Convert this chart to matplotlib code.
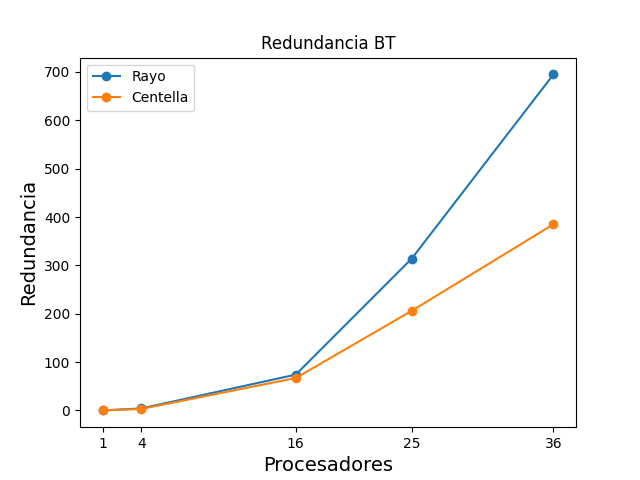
import matplotlib
matplotlib.use("Agg")
import matplotlib.pyplot as plt

procesadores = [1, 4, 16, 25, 36]
rayo = [0, 4, 74, 314, 695]
centella = [0, 3, 67, 206, 385]

fig, ax = plt.subplots(figsize=(6.4, 4.8), dpi=100)
ax.plot(procesadores, rayo, marker='o', label='Rayo')
ax.plot(procesadores, centella, marker='o', label='Centella')
ax.set_xticks(procesadores)
ax.set_title('Redundancia BT')
ax.set_xlabel('Procesadores', fontsize=14)
ax.set_ylabel('Redundancia', fontsize=14)
ax.legend(loc='upper left')
plt.savefig('out.png')
